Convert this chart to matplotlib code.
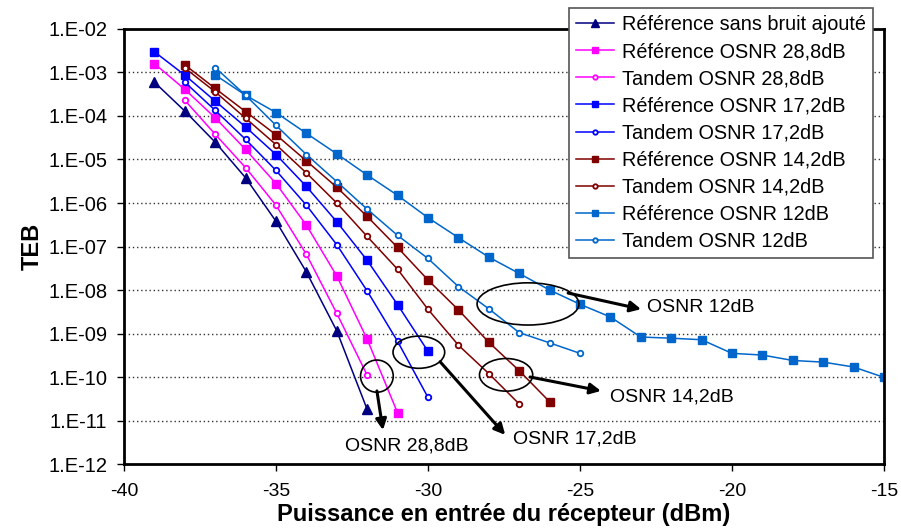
import matplotlib
matplotlib.use('Agg')
import matplotlib.pyplot as plt
from matplotlib.patches import Ellipse
import numpy as np

plt.rcParams['font.family'] = ['Liberation Sans', 'DejaVu Sans']
plt.rcParams['axes.unicode_minus'] = False

# puissance (dBm) et TEB
x_sans = [-39, -38, -37, -36, -35, -34, -33, -32]
teb_sans = [6.0e-4, 1.3e-4, 2.5e-5, 3.8e-6, 3.8e-7, 2.6e-8, 1.15e-9, 1.8e-11]

x_ref288 = [-39, -38, -37, -36, -35, -34, -33, -32, -31]
teb_ref288 = [1.6e-3, 4.1e-4, 9.1e-5, 1.7e-5, 2.8e-6, 3.1e-7, 2.1e-8, 7.4e-10, 1.5e-11]

x_tan288 = [-38, -37, -36, -35, -34, -33, -32]
teb_tan288 = [2.3e-4, 3.8e-5, 6.5e-6, 8.9e-7, 6.6e-8, 2.9e-9, 1.1e-10]

x_ref172 = [-39, -38, -37, -36, -35, -34, -33, -32, -31, -30]
teb_ref172 = [3.0e-3, 8.7e-4, 2.2e-4, 5.6e-5, 1.3e-5, 2.4e-6, 3.7e-7, 4.8e-8, 4.6e-9, 3.9e-10]

x_tan172 = [-38, -37, -36, -35, -34, -33, -32, -31, -30]
teb_tan172 = [6.0e-4, 1.35e-4, 2.9e-5, 5.6e-6, 8.9e-7, 1.1e-7, 9.5e-9, 6.6e-10, 3.4e-11]

x_ref142 = [-38, -37, -36, -35, -34, -33, -32, -31, -30, -29, -28, -27, -26]
teb_ref142 = [1.5e-3, 4.3e-4, 1.26e-4, 3.7e-5, 9.3e-6, 2.3e-6, 4.9e-7, 9.5e-8,
              1.7e-8, 3.5e-9, 6.3e-10, 1.4e-10, 2.7e-11]

x_tan142 = [-38, -37, -36, -35, -34, -33, -32, -31, -30, -29, -28, -27]
teb_tan142 = [1.27e-3, 3.6e-4, 8.9e-5, 2.2e-5, 4.9e-6, 1.0e-6, 1.7e-7, 3.0e-8,
              3.6e-9, 5.4e-10, 1.2e-10, 2.4e-11]

x_ref12 = [-37, -36, -35, -34, -33, -32, -31, -30, -29, -28, -27, -26, -25,
           -24, -23, -22, -21, -20, -19, -18, -17, -16, -15]
teb_ref12 = [8.8e-4, 3.0e-4, 1.2e-4, 4.0e-5, 1.35e-5, 4.4e-6, 1.5e-6, 4.6e-7,
             1.6e-7, 5.7e-8, 2.4e-8, 1.0e-8, 4.7e-9, 2.4e-9, 8.3e-10, 7.8e-10,
             7.2e-10, 3.5e-10, 3.2e-10, 2.4e-10, 2.2e-10, 1.7e-10, 9.8e-11]

x_tan12 = [-37, -36, -35, -34, -33, -32, -31, -30, -29, -28, -27, -26, -25]
teb_tan12 = [1.3e-3, 3.0e-4, 6.1e-5, 1.3e-5, 3.1e-6, 7.2e-7, 1.8e-7, 5.3e-8,
             1.2e-8, 3.7e-9, 1.05e-9, 6.1e-10, 3.5e-10]

yticks = [1e-2, 1e-3, 1e-4, 1e-5, 1e-6, 1e-7, 1e-8, 1e-9, 1e-10, 1e-11, 1e-12]
ytick_labels = ['1.E-02', '1.E-03', '1.E-04', '1.E-05', '1.E-06', '1.E-07',
                '1.E-08', '1.E-09', '1.E-10', '1.E-11', '1.E-12']
xticks = [-40, -35, -30, -25, -20, -15]

fig = plt.figure(figsize=(9.01, 5.30), dpi=100)
ax = fig.add_axes([0.1376, 0.1245, 0.8435, 0.8208])

ms_sq = 6
ms_ci = 4
lw = 1.1
ax.plot(x_sans, teb_sans, '-^', color='#000080', lw=lw, ms=6.5,
        label='Référence sans bruit ajouté')
ax.plot(x_ref288, teb_ref288, '-s', color='#FF00FF', lw=lw, ms=ms_sq,
        label='Référence OSNR 28,8dB')
ax.plot(x_tan288, teb_tan288, '-o', color='#FF00FF', lw=lw, ms=ms_ci,
        mfc='white', mew=1.3, label='Tandem OSNR 28,8dB')
ax.plot(x_ref172, teb_ref172, '-s', color='#0000FF', lw=lw, ms=ms_sq,
        label='Référence OSNR 17,2dB')
ax.plot(x_tan172, teb_tan172, '-o', color='#0000FF', lw=lw, ms=ms_ci,
        mfc='white', mew=1.3, label='Tandem OSNR 17,2dB')
ax.plot(x_ref142, teb_ref142, '-s', color='#800000', lw=lw, ms=ms_sq,
        label='Référence OSNR 14,2dB')
ax.plot(x_tan142, teb_tan142, '-o', color='#800000', lw=lw, ms=ms_ci,
        mfc='white', mew=1.3, label='Tandem OSNR 14,2dB')
ax.plot(x_ref12, teb_ref12, '-s', color='#0066CC', lw=lw, ms=ms_sq,
        label='Référence OSNR 12dB')
ax.plot(x_tan12, teb_tan12, '-o', color='#0066CC', lw=lw, ms=ms_ci,
        mfc='white', mew=1.3, label='Tandem OSNR 12dB')

ax.set_yscale('log')
ax.set_xlim(-40, -15)
ax.set_ylim(1e-12, 1e-2)
ax.set_yticks(yticks)
ax.set_yticklabels(ytick_labels)
ax.minorticks_off()
ax.set_xticks(xticks)
ax.tick_params(axis='both', direction='out', length=5, width=1, pad=6)
ax.tick_params(axis='y', labelsize=14.5, pad=7)
ax.tick_params(axis='x', labelsize=14, pad=9)
for t in yticks[1:-1]:
    ax.axhline(t, color='#333333', ls=(0, (1, 2)), lw=1, zorder=0)
for s in ax.spines.values():
    s.set_linewidth(2)

ax.set_ylabel('TEB', fontsize=17, fontweight='bold', labelpad=3)
ax.set_xlabel('Puissance en entrée du récepteur (dBm)', fontsize=17,
              fontweight='bold', labelpad=2)

leg = ax.legend(loc='upper right', bbox_to_anchor=(0.969, 0.985),
                bbox_transform=fig.transFigure, fontsize=14.3, frameon=True,
                fancybox=False, edgecolor='#555555', framealpha=1,
                handlelength=1.9, handletextpad=0.4, labelspacing=0.41,
                borderpad=0.35, borderaxespad=0, markerscale=0.8)
leg.get_frame().set_linewidth(1.2)

# annotations : ellipse (centre dBm, exposant), taille (fraction d'axes), flèche, texte
ell_x = [-26.71, -27.43, -30.30, -31.68]
ell_e = [-8.32, -9.95, -9.43, -9.98]
ell_w = [0.134, 0.070, 0.068, 0.043]
ell_h = [0.097, 0.075, 0.074, 0.074]
arr_from = [(-25.39, -8.07), (-26.64, -10.0), (-29.6, -9.65), (-31.68, -10.32)]
arr_to = [(-22.99, -8.44), (-24.31, -10.32), (-27.46, -11.33), (-31.48, -11.22)]
txt = ['OSNR 12dB', 'OSNR 14,2dB', 'OSNR 17,2dB', 'OSNR 28,8dB']
txt_pos = [(-22.80, -8.41), (-24.01, -10.46), (-27.20, -11.42), (-30.69, -11.59)]
txt_ha = ['left', 'left', 'left', 'center']

to_axes = ax.transData + ax.transAxes.inverted()
for i in range(4):
    cx, cy = to_axes.transform((ell_x[i], 10 ** ell_e[i]))
    ax.add_patch(Ellipse((cx, cy), ell_w[i], ell_h[i], transform=ax.transAxes,
                         fill=False, edgecolor='black', lw=1.2, zorder=5))
    ax.annotate('', xy=(arr_to[i][0], 10 ** arr_to[i][1]),
                xytext=(arr_from[i][0], 10 ** arr_from[i][1]),
                arrowprops=dict(arrowstyle='-|>', color='black', lw=2.2,
                                mutation_scale=16, shrinkA=0, shrinkB=0),
                zorder=6)
    ax.text(txt_pos[i][0], 10 ** txt_pos[i][1], txt[i], fontsize=14,
            ha=txt_ha[i], va='center')

fig.savefig('out.png', dpi=100)
